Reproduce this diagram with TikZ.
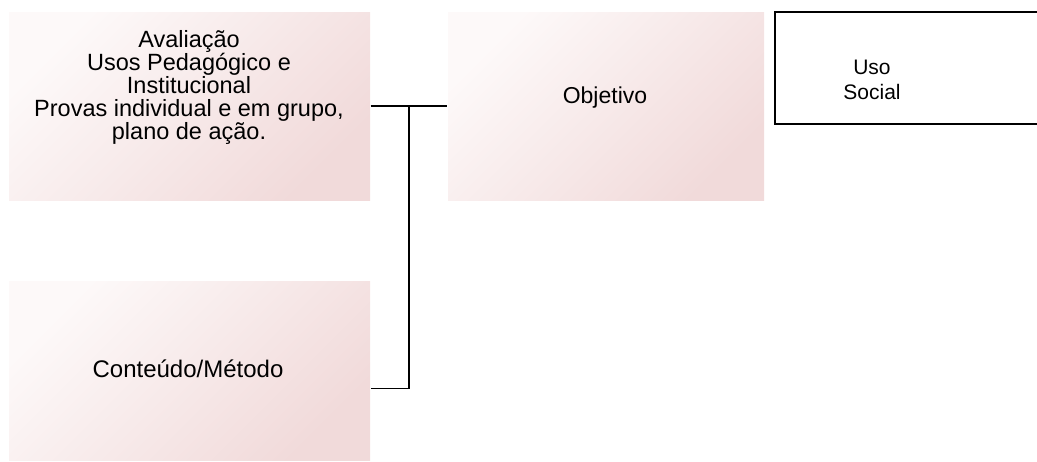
\documentclass[tikz,border=0pt]{standalone}
\usepackage{fontspec}
\setmainfont{Liberation Sans}
\usetikzlibrary{positioning,calc}

\definecolor{pinklight}{RGB}{253,249,249}
\definecolor{pinkdark}{RGB}{241,218,218}

\tikzset{every picture/.style={line width=1.2pt}}
\tikzset{
  pinkbox/.style={shade, shading=axis, top color=pinklight, bottom color=pinkdark,
    shading angle=45, draw=none, inner sep=0pt},
  boxtext/.style={align=center, inner sep=0pt},
}

\begin{document}
\begin{tikzpicture}[x=1pt,y=1pt,yscale=-1,xscale=1]
\useasboundingbox (0,0) rectangle (1037,461);

% boxes
\node[pinkbox, minimum width=361pt, minimum height=188pt] (aval) at (189.5,106) {};
\node[pinkbox, minimum width=316pt, minimum height=188pt] (objetivo) at (606,106) {};
\node[pinkbox, minimum width=361pt, minimum height=179pt] (conteudo) at (189.5,370.5) {};
\node[draw, line width=1.3pt, minimum width=270pt, minimum height=112pt, inner sep=0pt] (usosocial) at (910,68) {};

% texts
\node[boxtext, font=\fontsize{23.5}{23}\selectfont] (avaltxt) at (189,87) {Avalia\c{c}\~ao\\Usos Pedag\'ogico e\\Institucional\\Provas individual e em grupo,\\plano de a\c{c}\~ao.};
\node[boxtext, font=\fontsize{23}{25}\selectfont] (objtxt) at (605,98) {Objetivo};
\node[boxtext, font=\fontsize{24}{25}\selectfont] (conttxt) at (188,369) {Conte\'udo/M\'etodo};
\node[boxtext, font=\fontsize{21}{25}\selectfont] (usotxt) at (872,80) {Uso\\Social};

% connectors
\coordinate (junc) at ($(aval.east)!0.5!(objetivo.west)$);
\draw (aval.east) -- (objetivo.west);
\draw (junc) |- ([yshift=18pt]conteudo.east);
\end{tikzpicture}
\end{document}
